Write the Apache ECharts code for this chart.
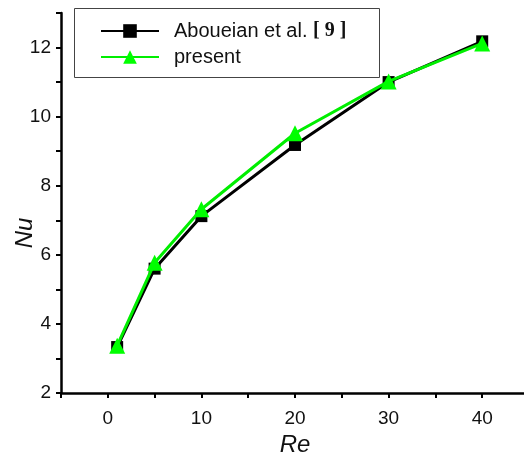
<!DOCTYPE html>
<html><head><meta charset="utf-8">
<script src="https://cdn.jsdelivr.net/npm/echarts@6/dist/echarts.min.js"></script>
<style>html,body{margin:0;padding:0;background:#fff}#c{width:524px;height:459px}</style>
</head><body><div id="c"></div>
<script>
const reValues = [1, 5, 10, 20, 30, 40];
const abouNu = [3.33, 5.6, 7.12, 9.18, 11.0, 12.18];
const presentNu = [3.37, 5.77, 7.32, 9.52, 11.02, 12.12];
const seriesNames = ['Aboueian et al. [ 9 ]', 'present'];
const xTicks = [0, 10, 20, 30, 40];
const yTicks = [2, 4, 6, 8, 10, 12];

const chart = echarts.init(document.getElementById('c'), null, {renderer: 'canvas'});
const font = 'Liberation Sans, Arial, sans-serif';
chart.setOption({
  animation: false,
  backgroundColor: '#fff',
  grid: {left: 61, right: -5, top: 13, bottom: 66, containLabel: false, outerBoundsMode: 'none'},
  graphic: [{type: 'rect', left: 74, top: 8, shape: {width: 305, height: 69}, style: {fill: '#fff', stroke: '#444', lineWidth: 1}, z: 50}],
  legend: {
    orient: 'vertical', left: 95, top: 16, itemWidth: 58, itemHeight: 17, itemGap: 6, z: 60,
    data: [seriesNames[0], seriesNames[1]],
    formatter: function (n) { return n === seriesNames[0] ? '{a|Aboueian et al. }{b|[ 9 ]}' : '{a|' + n + '}'; },
    textStyle: {rich: {a: {fontFamily: font, fontSize: 20, color: '#111'}, b: {fontFamily: 'Liberation Serif, serif', fontWeight: 'bold', fontSize: 20, color: '#111'}}, padding: [0, 0, 0, 10]}
  },
  xAxis: {
    type: 'value', min: -5, max: 45, interval: 5,
    name: 'Re', nameLocation: 'middle', nameGap: 40, nameMoveOverlap: false,
    nameTextStyle: {fontFamily: font, fontStyle: 'italic', fontSize: 24, color: '#111'},
    axisLine: {onZero: false, lineStyle: {color: '#000', width: 2.5}},
    axisTick: {inside: false, length: 5, lineStyle: {color: '#000', width: 2}},
    axisLabel: {margin: 16, fontFamily: font, fontSize: 19, color: '#111',
      formatter: function (v) { return xTicks.indexOf(v) >= 0 ? String(v) : ''; }},
    splitLine: {show: false}
  },
  yAxis: {
    type: 'value', min: 2, max: 13, interval: 1,
    name: 'Nu', nameLocation: 'middle', nameGap: 24, nameRotate: 90, nameMoveOverlap: false,
    nameTextStyle: {fontFamily: font, fontStyle: 'italic', fontSize: 24, color: '#111', padding: [0, 60, 0, 0]},
    axisLine: {onZero: false, lineStyle: {color: '#000', width: 2.5}},
    axisTick: {inside: false, length: 5, lineStyle: {color: '#000', width: 2}},
    axisLabel: {margin: 10, fontFamily: font, fontSize: 19, color: '#111',
      formatter: function (v) { return yTicks.indexOf(v) >= 0 ? String(v) : ''; }},
    splitLine: {show: false}
  },
  series: [
    {name: seriesNames[0], type: 'line', data: reValues.map((x, i) => [x, abouNu[i]]),
     symbol: 'rect', symbolSize: 12, color: '#000', lineStyle: {color: '#000', width: 3},
     itemStyle: {color: '#000'}, z: 2},
    {name: seriesNames[1], type: 'line', data: reValues.map((x, i) => [x, presentNu[i]]),
     symbol: 'triangle', symbolSize: 16, color: '#00ff00', lineStyle: {color: '#00ee00', width: 3},
     itemStyle: {color: '#00ff00'}, z: 3}
  ]
});
</script></body></html>
